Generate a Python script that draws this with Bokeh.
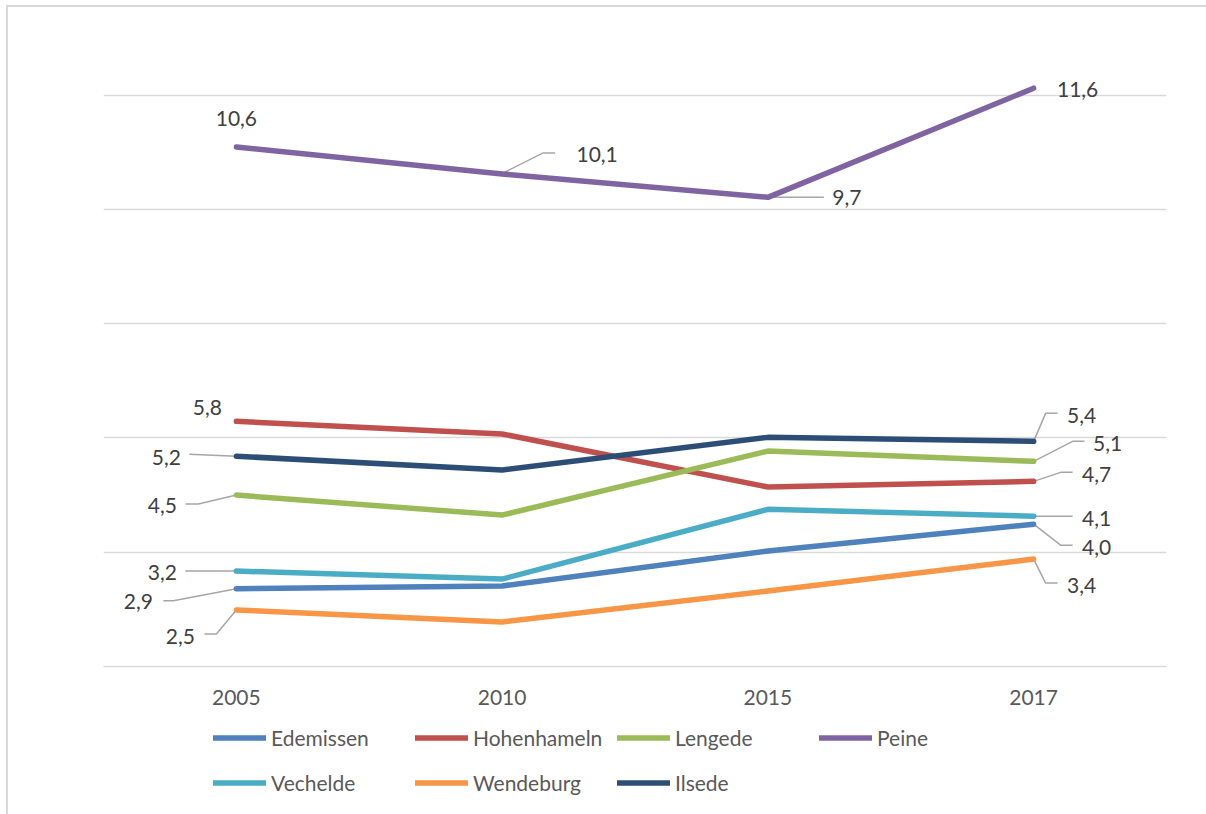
from bokeh.plotting import figure
from bokeh.layouts import column
from bokeh.models import Range1d, FixedTicker, Legend, LegendItem
from bokeh.core.properties import value
from bokeh.embed import file_html
from bokeh.resources import INLINE

# ---------------- data ----------------
years = ["2005", "2010", "2015", "2017"]
series_names = ["Edemissen", "Hohenhameln", "Lengede", "Peine", "Vechelde", "Wendeburg", "Ilsede"]
edemissen = [2.86, 2.91, 3.52, 3.99]
hohenhameln = [5.79, 5.57, 4.64, 4.74]
lengede = [4.50, 4.15, 5.27, 5.09]
peine = [10.59, 10.12, 9.71, 11.62]
vechelde = [3.17, 3.03, 4.25, 4.13]
wendeburg = [2.49, 2.28, 2.82, 3.38]
ilsede = [5.18, 4.94, 5.51, 5.44]
grid_values = [1.5, 3.5, 5.5, 7.5, 9.5, 11.5]

series_values = [edemissen, hohenhameln, lengede, peine, vechelde, wendeburg, ilsede]

# ---------------- styles ----------------
colors = ["#4F81BD", "#C0504D", "#9BBB59", "#8064A2", "#4BACC6", "#F79646", "#2C4D75"]
FONT = "Lato"
FRAME_BG = "linear-gradient(#D9D9D9,#D9D9D9)"

# data-label placement (screen px offsets from the point): text offset and leader polyline
label_layout = {
    "Edemissen": {0: (-98, 13, [(-73, 12), (-63, 12), (0, 0)]),
                  3: (63, 23, [(0, 0), (27, 21), (39, 21)])},
    "Hohenhameln": {0: (-29, -14, []),
                    3: (63, -7, [(0, 0), (27, -9), (39, -9)])},
    "Lengede": {0: (-74, 10, [(-51, 9), (-38, 9), (0, 0)]),
                3: (74, -18, [(0, 0), (39, -20), (51, -20)])},
    "Peine": {0: (0, -29, []),
              1: (95, -19, [(1, -1), (41, -21), (53, -21)]),
              2: (79, 0, [(0, 0), (56, 0)]),
              3: (44, 1, [])},
    "Vechelde": {0: (-74, 1, [(-51, 0), (0, 0)]),
                 3: (63, 2, [(0, 0), (39, 0)])},
    "Wendeburg": {0: (-56, 27, [(-32, 24), (-20, 24), (0, 0)]),
                  3: (48, 26, [(0, 0), (12, 24), (24, 24)])},
    "Ilsede": {0: (-70, 1, [(-47, -2), (0, 0)]),
               3: (48, -26, [(0, 0), (12, -28), (24, -28)])},
}

W = 1206
H_CHART, H_LEG = 716, 98
BL, BR, BT, BB = 103, 40, 66, 50
X0, X1 = -0.5, 3.5
Y0, Y1 = 1.5, 12.0
px_x = (W - BL - BR) / (X1 - X0)
px_y = (H_CHART - BT - BB) / (Y1 - Y0)

p = figure(width=W, height=H_CHART, output_backend="svg", toolbar_location=None,
           x_range=Range1d(X0, X1), y_range=Range1d(Y0, Y1),
           min_border_left=BL, min_border_right=BR, min_border_top=BT, min_border_bottom=BB)
p.outline_line_color = None
p.background_fill_alpha = 0
p.border_fill_alpha = 0

xs = list(range(len(years)))

# axes & grid
p.yaxis.visible = False
p.xgrid.visible = False
p.ygrid.ticker = FixedTicker(ticks=grid_values)
p.ygrid.grid_line_color = "#D9D9D9"
p.ygrid.grid_line_width = 1.5
p.xaxis.ticker = FixedTicker(ticks=xs)
p.xaxis.major_label_overrides = {i: y for i, y in enumerate(years)}
p.xaxis.axis_line_color = "#D9D9D9"
p.xaxis.axis_line_width = 1.5
p.xaxis.major_tick_line_color = None
p.xaxis.major_tick_out = 0
p.xaxis.major_tick_in = 0
p.xaxis.minor_tick_line_color = None
p.xaxis.major_label_standoff = 23
p.xaxis.major_label_text_font = FONT
p.xaxis.major_label_text_font_size = "21px"
p.xaxis.major_label_text_color = "#595959"

# leader lines
lead_xs, lead_ys = [], []
for name, vals in zip(series_names, series_values):
    for idx, (tdx, tdy, pts) in label_layout[name].items():
        if pts:
            lead_xs.append([xs[idx] + dx / px_x for dx, dy in pts])
            lead_ys.append([vals[idx] - dy / px_y for dx, dy in pts])
p.multi_line(lead_xs, lead_ys, line_color="#A6A6A6", line_width=1.5)

# series lines
for name, vals, c in zip(series_names, series_values, colors):
    p.line(xs, vals, line_color=c, line_width=5.5, line_cap="round", line_join="round")

# data labels
tx, ty, tt = [], [], []
for name, vals in zip(series_names, series_values):
    for idx, (tdx, tdy, pts) in label_layout[name].items():
        tx.append(xs[idx] + tdx / px_x)
        ty.append(vals[idx] - tdy / px_y)
        tt.append(f"{vals[idx]:.1f}".replace(".", ","))
p.text(tx, ty, text=tt, text_align="center", text_baseline="middle",
       text_font=value(FONT), text_font_size="21px", text_color="#404040")

# ---------------- legend strip (second figure below) ----------------
pl = figure(width=W, height=H_LEG, output_backend="svg", toolbar_location=None,
            x_range=Range1d(100, 101), y_range=Range1d(100, 101),
            x_axis_type=None, y_axis_type=None,
            min_border_left=0, min_border_right=0, min_border_top=0, min_border_bottom=0)
pl.outline_line_color = None
pl.grid.visible = False
pl.background_fill_alpha = 0
pl.border_fill_alpha = 0

leg_renderers = []
for name, vals, c in zip(series_names, series_values, colors):
    leg_renderers.append(pl.line(xs, vals, line_color=c, line_width=5.5, line_cap="round"))

legend = Legend(items=[LegendItem(label=n, renderers=[r]) for n, r in zip(series_names, leg_renderers)],
                location=(110, 9), orientation="horizontal", ncols=4,
                glyph_width=53, glyph_height=45, label_height=45, label_width=144,
                label_standoff=5, spacing=0, padding=0, margin=0,
                border_line_color=None, background_fill_alpha=0,
                label_text_font=FONT, label_text_font_size="21px", label_text_color="#595959")
pl.add_layout(legend)

layout = column(p, pl, spacing=0)
layout.styles = {
    "background": (f"{FRAME_BG} 6px 5px / 2px 100% no-repeat, "
                   f"{FRAME_BG} 6px 5px / 100% 2px no-repeat, white"),
}
open("out.html", "w").write(file_html(layout, INLINE))
